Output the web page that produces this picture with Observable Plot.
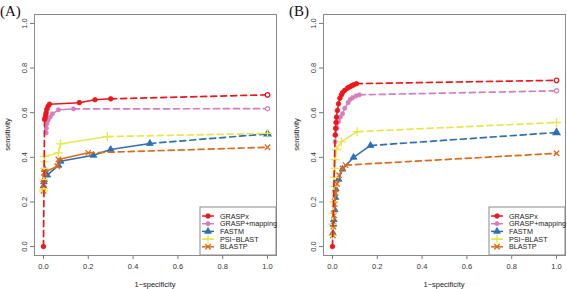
<!DOCTYPE html>
<html><head><meta charset="utf-8">
<script src="https://cdn.jsdelivr.net/npm/d3@7"></script>
<script src="https://cdn.jsdelivr.net/npm/@observablehq/plot@0.6"></script>
<style>
body{margin:0;background:#fff;}
#wrap{display:flex;width:567px;height:289px;overflow:hidden;}
svg{display:block;}
</style></head><body><div id="wrap"></div>
<script>
// ---------- data ----------
const methods = ["GRASPx", "GRASP+mapping", "FASTM", "PSI\u2212BLAST", "BLASTP"];
const colors = ["#ee161c", "#d47ebc", "#2f6fb3", "#e7e64a", "#de6a1c"];
const tickValues = [0, 0.2, 0.4, 0.6, 0.8, 1.0];
const tickLabels = ["0.0", "0.2", "0.4", "0.6", "0.8", "1.0"];
const panelLabels = ["(A)", "(B)"];
const xLabel = "1\u2212specificity";
const yLabel = "sensitivity";

// Panel A
const graspxA_fpr = [0, 0.005, 0.008, 0.010, 0.012, 0.015, 0.020, 0.027, 0.16, 0.23, 0.30, 1.0];
const graspxA_tpr = [0, 0.570, 0.578, 0.590, 0.600, 0.615, 0.628, 0.638, 0.645, 0.658, 0.662, 0.680];
const mappingA_fpr = [0.012, 0.013, 0.015, 0.020, 0.030, 0.040, 0.067, 0.134, 1.0];
const mappingA_tpr = [0.510, 0.530, 0.550, 0.565, 0.580, 0.595, 0.613, 0.617, 0.618];
const fastmA_fpr = [0, 0.002, 0.003, 0.006, 0.017, 0.067, 0.076, 0.223, 0.300, 0.475, 1.0];
const fastmA_tpr = [0.270, 0.290, 0.300, 0.345, 0.320, 0.364, 0.382, 0.409, 0.435, 0.462, 0.505];
const psiA_fpr = [0, 0.001, 0.002, 0.003, 0.004, 0.005, 0.067, 0.076, 0.285, 1.0];
const psiA_tpr = [0.250, 0.260, 0.300, 0.350, 0.380, 0.404, 0.420, 0.460, 0.493, 0.507];
const blastpA_fpr = [0, 0.001, 0.002, 0.004, 0.062, 0.067, 0.200, 1.0];
const blastpA_tpr = [0.250, 0.280, 0.310, 0.333, 0.360, 0.390, 0.420, 0.445];

// Panel B
const graspxB_fpr = [0, 0.012, 0.014, 0.016, 0.018, 0.022, 0.027, 0.033, 0.040, 0.045, 0.055, 0.067, 0.076, 0.085, 0.095, 0.107, 1.0];
const graspxB_tpr = [0, 0.500, 0.530, 0.556, 0.580, 0.610, 0.640, 0.665, 0.680, 0.690, 0.700, 0.710, 0.715, 0.720, 0.725, 0.730, 0.745];
const mappingB_fpr = [0.012, 0.015, 0.020, 0.027, 0.035, 0.045, 0.055, 0.070, 0.080, 0.090, 0.105, 0.120, 1.0];
const mappingB_tpr = [0.470, 0.500, 0.530, 0.560, 0.580, 0.595, 0.620, 0.645, 0.660, 0.667, 0.675, 0.680, 0.698];
const fastmB_fpr = [0.002, 0.004, 0.006, 0.010, 0.013, 0.015, 0.027, 0.045, 0.094, 0.170, 1.0];
const fastmB_tpr = [0.060, 0.100, 0.120, 0.165, 0.220, 0.258, 0.302, 0.347, 0.400, 0.453, 0.511];
const psiB_fpr = [0, 0.001, 0.002, 0.004, 0.006, 0.008, 0.010, 0.012, 0.018, 0.040, 0.110, 1.0];
const psiB_tpr = [0.050, 0.100, 0.150, 0.200, 0.270, 0.310, 0.350, 0.390, 0.435, 0.470, 0.515, 0.556];
const blastpB_fpr = [0.002, 0.004, 0.007, 0.010, 0.014, 0.020, 0.030, 0.045, 0.058, 1.0];
const blastpB_tpr = [0.050, 0.090, 0.140, 0.190, 0.240, 0.280, 0.320, 0.350, 0.365, 0.418];

// ---------- styles ----------
const styles = [
  {symbol: "circle", r: 2.3, end: "circle", endFill: "white", startDashed: true},
  {symbol: "circle", r: 2.1, end: "circle", endFill: "white", startDashed: false},
  {symbol: "triangle", r: 2.5, end: "triangle", endFill: null, startDashed: false},
  {symbol: "plus", r: 3.0, end: "plus", endFill: null, startDashed: false},
  {symbol: "times", r: 2.6, end: "times", endFill: null, startDashed: false}
];

const panels = [
  {label: panelLabels[0], width: 283, marginLeft: 34, marginRight: 7,
   series: [[graspxA_fpr, graspxA_tpr], [mappingA_fpr, mappingA_tpr], [fastmA_fpr, fastmA_tpr], [psiA_fpr, psiA_tpr], [blastpA_fpr, blastpA_tpr]]},
  {label: panelLabels[1], width: 284, marginLeft: 40, marginRight: 2,
   series: [[graspxB_fpr, graspxB_tpr], [mappingB_fpr, mappingB_tpr], [fastmB_fpr, fastmB_tpr], [psiB_fpr, psiB_tpr], [blastpB_fpr, blastpB_tpr]]}
];

const drawOrder = [1, 2, 4, 3, 0];
const font = "Liberation Sans, Arial, sans-serif";

function buildPanel(p) {
  const marks = [Plot.frame({stroke: "#8a8a8a", strokeWidth: 1})];
  for (const k of drawOrder) {
    const [fx, fy] = p.series[k];
    const st = styles[k];
    const col = colors[k];
    const pts = fx.map((x, i) => ({x, y: fy[i], i}));
    const n = pts.length;
    const s = st.startDashed ? 1 : 0;
    const solid = pts.slice(s, n - 1);
    const dashedSegs = [pts.slice(n - 2, n)];
    if (st.startDashed) dashedSegs.push(pts.slice(0, 2));
    for (const seg of dashedSegs) {
      marks.push(Plot.line(seg, {x: "x", y: "y", stroke: col, strokeWidth: 1.7, strokeDasharray: "6,4"}));
    }
    marks.push(Plot.line(solid, {x: "x", y: "y", stroke: col, strokeWidth: 1.5}));
    const filledSym = st.symbol === "circle" || st.symbol === "triangle";
    const inner = pts.slice(0, n - 1);
    marks.push(Plot.dot(inner, {x: "x", y: "y", symbol: () => st.symbol, r: st.r,
      fill: filledSym ? col : "none", stroke: col, strokeWidth: filledSym ? 0.8 : 1.3}));
    marks.push(Plot.dot(pts.slice(n - 1), {x: "x", y: "y", symbol: () => st.end, r: st.r,
      fill: filledSym ? (st.endFill || col) : "none", stroke: col, strokeWidth: 1.3}));
  }
  // axes
  marks.push(Plot.axisX(tickValues, {tickSize: 4, tickPadding: 4, tickFormat: d => tickLabels[tickValues.indexOf(d)], stroke: "#777", fill: "#333", fontSize: 7.5, label: null}));
  marks.push(Plot.axisY(tickValues, {tickSize: 4, tickFormat: () => "", stroke: "#777", label: null}));
  marks.push(Plot.text(tickValues, {y: d => d, text: d => tickLabels[tickValues.indexOf(d)], frameAnchor: "left", dx: -8,
    rotate: -90, textAnchor: "middle", lineAnchor: "bottom", fontSize: 7.5, fill: "#333"}));

  const chart = Plot.plot({
    width: p.width, height: 289,
    marginLeft: p.marginLeft, marginRight: p.marginRight, marginTop: 14, marginBottom: 34,
    x: {domain: [-0.04, 1.04], axis: null},
    y: {domain: [-0.04, 1.04], axis: null},
    style: {fontFamily: font, background: "white", overflow: "visible"},
    marks
  });

  const svg = d3.select(chart);
  const W = p.width, L = p.marginLeft, R = W - p.marginRight, T = 14, B = 255;
  // panel label
  svg.append("text").attr("x", L - 34).attr("y", 16).attr("text-anchor", "start")
    .attr("font-family", "Liberation Serif, DejaVu Serif, serif")
    .attr("font-size", 15).attr("fill", "#111").text(p.label);
  // axis titles
  svg.append("text").attr("x", (L + R) / 2).attr("y", 287).attr("text-anchor", "middle")
    .attr("font-family", font).attr("font-size", 7.5).attr("fill", "#222").text(xLabel);
  svg.append("text").attr("transform", `translate(${L - 24},${(T + B) / 2}) rotate(-90)`).attr("text-anchor", "middle")
    .attr("font-family", font).attr("font-size", 7.5).attr("fill", "#222").text(yLabel);
  // legend
  const lw = 76, lh = 48, lx = R - lw, ly = B - lh;
  const g = svg.append("g");
  g.append("rect").attr("x", lx).attr("y", ly).attr("width", lw).attr("height", lh)
    .attr("fill", "white").attr("stroke", "#8a8a8a").attr("stroke-width", 1);
  const symMap = {circle: d3.symbolCircle, triangle: d3.symbolTriangle, plus: d3.symbolPlus, times: d3.symbolTimes};
  methods.forEach((m, i) => {
    const yy = ly + 9 + i * 7.7;
    const st = styles[i];
    g.append("line").attr("x1", lx + 2).attr("x2", lx + 14).attr("y1", yy).attr("y2", yy)
      .attr("stroke", colors[i]).attr("stroke-width", 1.5);
    const filled = st.symbol === "circle" || st.symbol === "triangle";
    const area = Math.PI * st.r * st.r;
    g.append("path").attr("d", d3.symbol(symMap[st.symbol], area)())
      .attr("transform", `translate(${lx + 8},${yy})`)
      .attr("fill", filled ? colors[i] : "none").attr("stroke", colors[i]).attr("stroke-width", filled ? 0.8 : 1.3);
    g.append("text").attr("x", lx + 20).attr("y", yy).attr("dy", "0.35em").attr("text-anchor", "start")
      .attr("font-family", font).attr("font-size", 7.2).attr("fill", "#222").text(m);
  });
  return chart;
}

const wrap = document.getElementById("wrap");
for (const p of panels) wrap.appendChild(buildPanel(p));
</script>
</body></html>
